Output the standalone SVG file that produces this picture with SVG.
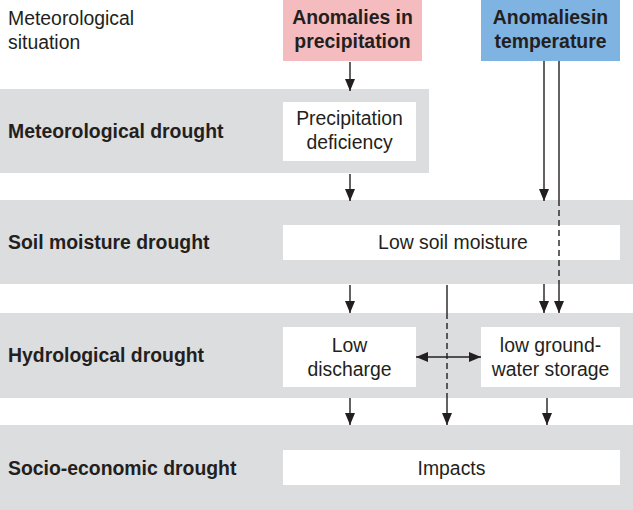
<svg xmlns="http://www.w3.org/2000/svg" width="633" height="510" viewBox="0 0 633 510">
<defs>
<style>
.band{fill:#dcdddf}
.box{fill:#ffffff}
.t{font-family:"Liberation Sans",Arial,sans-serif;font-size:19.4px;fill:#231f20}
.b{font-weight:bold}
.m{text-anchor:middle}
.ln{stroke:#231f20;stroke-width:1.4;fill:none}
.dash{stroke-dasharray:6 4}
</style>
<marker id="ah" viewBox="0 0 12 10" refX="12" refY="5" markerWidth="12" markerHeight="10" markerUnits="userSpaceOnUse" orient="auto-start-reverse">
<path d="M0,0 L12,5 L0,10 Z" fill="#231f20"/>
</marker>
</defs>
<rect width="633" height="510" fill="#ffffff"/>
<g id="label-situation"><text class="t" x="8" y="25">Meteorological</text><text class="t" x="8" y="49">situation</text></g>
<g id="anom-precip"><rect x="283" y="0" width="139" height="61" fill="#f5bcbf"/><text class="t b m" x="352.5" y="24">Anomalies in</text><text class="t b m" x="352.5" y="48">precipitation</text></g>
<g id="anom-temp"><rect x="481" y="0" width="139" height="61" fill="#7fb4e2"/><text class="t b m" x="550.5" y="24">Anomaliesin</text><text class="t b m" x="550.5" y="48">temperature</text></g>
<g id="met-drought"><rect class="band" x="0" y="89" width="429" height="84"/><text class="t b" x="8" y="138">Meteorological drought</text>
<rect class="box" x="283" y="102" width="133" height="59"/><text class="t m" x="349.5" y="125">Precipitation</text><text class="t m" x="349.5" y="149">deficiency</text></g>
<g id="soil-drought"><rect class="band" x="0" y="200" width="633" height="84"/><text class="t b" x="8" y="249">Soil moisture drought</text>
<rect class="box" x="283" y="225" width="337" height="35"/><text class="t m" x="453" y="249">Low soil moisture</text></g>
<g id="hydro-drought"><rect class="band" x="0" y="313" width="633" height="85"/><text class="t b" x="8" y="362">Hydrological drought</text>
<rect class="box" x="283" y="327" width="133" height="60"/><text class="t m" x="349.5" y="352">Low</text><text class="t m" x="349.5" y="376">discharge</text>
<rect class="box" x="481" y="327" width="139" height="60"/><text class="t m" x="550.5" y="352">low ground-</text><text class="t m" x="550.5" y="376">water storage</text></g>
<g id="socio-drought"><rect class="band" x="0" y="425" width="633" height="85"/><text class="t b" x="8" y="475">Socio-economic drought</text>
<rect class="box" x="283" y="450" width="337" height="35"/><text class="t m" x="451.5" y="475">Impacts</text></g>
<g id="connectors">
<line class="ln" x1="350" y1="62" x2="350" y2="91" marker-end="url(#ah)"/>
<line class="ln" x1="350" y1="174" x2="350" y2="201" marker-end="url(#ah)"/>
<line class="ln" x1="350" y1="285" x2="350" y2="313" marker-end="url(#ah)"/>
<line class="ln" x1="350" y1="398" x2="350" y2="425" marker-end="url(#ah)"/>
<line class="ln" x1="544" y1="61" x2="544" y2="201" marker-end="url(#ah)"/>
<line class="ln" x1="544" y1="284" x2="544" y2="313" marker-end="url(#ah)"/>
<line class="ln" x1="559" y1="61" x2="559" y2="200"/>
<line class="ln dash" x1="559" y1="200" x2="559" y2="284"/>
<line class="ln" x1="559" y1="284" x2="559" y2="313" marker-end="url(#ah)"/>
<line class="ln" x1="447" y1="285" x2="447" y2="313"/>
<line class="ln dash" x1="447" y1="313" x2="447" y2="398"/>
<line class="ln" x1="447" y1="398" x2="447" y2="425" marker-end="url(#ah)"/>
<line class="ln" x1="547" y1="398" x2="547" y2="425" marker-end="url(#ah)"/>
<line class="ln" x1="416" y1="357" x2="481" y2="357" marker-start="url(#ah)" marker-end="url(#ah)"/>
</g>
</svg>
